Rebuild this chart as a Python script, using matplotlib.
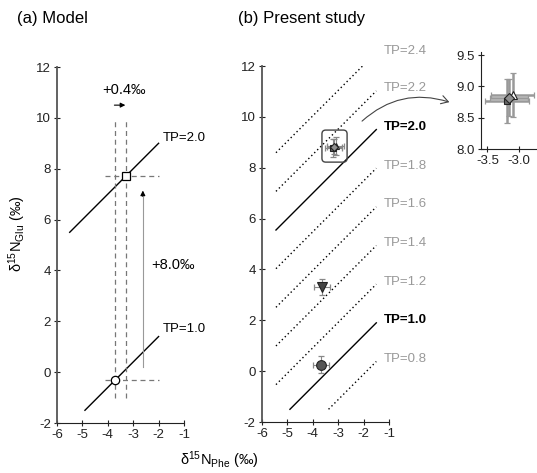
import numpy as np
import matplotlib
matplotlib.use("Agg")
import matplotlib.pyplot as plt
from matplotlib.patches import FancyBboxPatch, FancyArrowPatch
from matplotlib.ticker import FormatStrFormatter

plt.rcParams["font.family"] = ["Liberation Sans", "DejaVu Sans"]
plt.rcParams["mathtext.fontset"] = "custom"
plt.rcParams["mathtext.rm"] = "Liberation Sans"
plt.rcParams["mathtext.it"] = "Liberation Sans:italic"
plt.rcParams["axes.unicode_minus"] = False

# ---------------- data ----------------
# (a) model: source (TP=1) and consumer (TP=2)
model_phe = [-3.7, -3.3]
model_glu = [-0.3, 7.7]
model_tp = [1.0, 2.0]
model_line_x0 = [-4.9, -5.5]
model_line_x1 = [-2.0, -2.0]

# (b) TP isolines: Glu - Phe = 3.4 + 7.6 (TP - 1)
tp_levels = [0.8, 1.0, 1.2, 1.4, 1.6, 1.8, 2.0, 2.2, 2.4]
tp_x0 = [-3.38, -4.9, -5.45, -5.45, -5.45, -5.45, -5.45, -5.45, -5.45]
tp_x1 = [-1.5, -1.5, -1.5, -1.5, -1.5, -1.5, -1.5, -1.5, -2.04]

# (b) observations
obs_phe = [-3.68, -3.64, -3.19, -3.10, -3.16]
obs_glu = [0.25, 3.30, 8.77, 8.86, 8.82]
obs_xerr = [0.33, 0.33, 0.34, 0.34, 0.30]
obs_yerr = [0.33, 0.31, 0.35, 0.35, 0.30]
obs_marker = ["o", "v", "s", "^", "D"]
obs_color = ["#555555", "#444444", "#666666", "white", "#909090"]
obs_size = [7, 7.5, 5, 6, 5.5]

FS_TICK = 9.5
FS_TP = 9.5


def tp_offset(tp):
    return 3.4 + 7.6 * (tp - 1.0)


def style_axis(ax):
    for s in ["top", "right"]:
        ax.spines[s].set_visible(False)
    ax.spines["left"].set_color("#555555")
    ax.spines["left"].set_linewidth(1.3)
    ax.spines["bottom"].set_color("#222222")
    ax.tick_params(direction="inout", length=5, width=0.8, labelsize=FS_TICK,
                   colors="#222222", pad=2)


W, H = 537, 473
fig = plt.figure(figsize=(W / 100, H / 100), dpi=100)

ax_a = fig.add_axes([57 / W, 1 - 423 / H, 127 / W, 356 / H])
ax_b = fig.add_axes([262 / W, 1 - 422 / H, 127 / W, 356 / H])
ax_i = fig.add_axes([481 / W, 1 - 149 / H, 56 / W, 97 / H])

for ax in (ax_a, ax_b):
    ax.set_xlim(-6, -1)
    ax.set_ylim(-2, 12)
    ax.set_xticks(range(-6, 0))
    ax.set_yticks(range(-2, 13, 2))
    style_axis(ax)

# ---------------- (a) Model ----------------
for tp, x0, x1 in zip(model_tp, model_line_x0, model_line_x1):
    off = tp_offset(tp)
    ax_a.plot([x0, x1], [x0 + off, x1 + off], color="black", lw=1)
    ax_a.text(x1 + 0.18, x1 + off + (0.2 if tp == 2.0 else 0.3), f"TP={tp:.1f}",
              fontsize=FS_TP, va="center", ha="left")

dash_kw = dict(color="#777777", lw=0.9, ls=(0, (4, 3)))
for x in model_phe:
    ax_a.plot([x, x], [-1.0, 10.0], **dash_kw)
for y in model_glu:
    ax_a.plot([-4.1, -2.0], [y, y], **dash_kw)

ax_a.plot(model_phe[0], model_glu[0], "o", ms=6, mfc="white", mec="black",
          mew=0.9, zorder=5)
ax_a.plot(model_phe[1], model_glu[1], "s", ms=6, mfc="white", mec="black",
          mew=0.9, zorder=5)

# shift arrows
ax_a.annotate("", xy=(-3.2, 10.5), xytext=(-3.85, 10.5),
              arrowprops=dict(arrowstyle="-|>", color="black", lw=0.8,
                              mutation_scale=7))
ax_a.text(-3.38, 11.1, "+0.4‰", fontsize=10.5, ha="center", va="center")
ax_a.plot([-2.62, -2.62], [0.2, 6.9], color="#999999", lw=0.8)
ax_a.annotate("", xy=(-2.62, 7.25), xytext=(-2.62, 6.8),
              arrowprops=dict(arrowstyle="-|>", color="black", lw=0.8,
                              mutation_scale=7))
ax_a.text(-2.28, 4.2, "+8.0‰", fontsize=10.5, ha="left", va="center")

# ---------------- (b) Present study ----------------
for tp, x0, x1 in zip(tp_levels, tp_x0, tp_x1):
    off = tp_offset(tp)
    major = tp in (1.0, 2.0)
    ls = "-" if major else (0, (1, 2))
    ax_b.plot([x0, x1], [x0 + off, x1 + off], color="black", lw=1, ls=ls)
    ax_b.text(-1.22, min(-1.5 + off, 12.5) + 0.1, f"TP={tp:.1f}", fontsize=FS_TP,
              va="center", ha="left", clip_on=False,
              color="black" if major else "#999999",
              fontweight="bold" if major else "normal")

for axx in (ax_b, ax_i):
    inset = axx is ax_i
    for x, y, xe, ye, m, c, s in zip(obs_phe, obs_glu, obs_xerr, obs_yerr,
                                     obs_marker, obs_color, obs_size):
        if inset and y < 8:
            continue
        axx.errorbar(x, y, xerr=xe, yerr=ye, fmt="none",
                     ecolor="#999999" if inset else "#888888",
                     elinewidth=1.8 if inset else 0.8, capsize=2.5 if inset else 2,
                     capthick=0.9, zorder=3)
        axx.plot(x, y, m, ms=s if inset else (s if y < 8 else s * 0.8),
                 mfc=c, mec="#222222", mew=0.8, zorder=4)

box = FancyBboxPatch((-3.64, 8.22), 0.99, 1.26,
                     boxstyle="round,pad=0,rounding_size=0.15",
                     fc="none", ec="#444444", lw=1, zorder=6)
ax_b.add_patch(box)

# ---------------- inset ----------------
ax_i.set_xlim(-3.6, -2.72)
ax_i.set_ylim(8.0, 9.55)
ax_i.set_xticks([-3.5, -3.0])
ax_i.set_yticks([8.0, 8.5, 9.0, 9.5])
ax_i.xaxis.set_major_formatter(FormatStrFormatter("%.1f"))
ax_i.yaxis.set_major_formatter(FormatStrFormatter("%.1f"))
style_axis(ax_i)
ax_i.spines["left"].set_color("#222222")
ax_i.spines["left"].set_linewidth(0.8)

fig.patches.append(FancyArrowPatch(
    (360, H - 123), (452, H - 103), transform=None,
    connectionstyle="arc3,rad=-0.3", arrowstyle="->,head_length=5,head_width=3",
    color="#444444", lw=0.8))

# ---------------- titles & shared labels ----------------
fig.text(17 / W, 1 - 19 / H, "(a) Model", fontsize=12, va="center")
fig.text(238 / W, 1 - 19 / H, "(b) Present study", fontsize=12, va="center")
fig.text(219 / W, 1 - 460 / H, "δ$^{15}$N$_{\\mathrm{Phe}}$ (‰)", fontsize=10.5,
         ha="center", va="center")
fig.text(17 / W, 1 - 234 / H, "δ$^{15}$N$_{\\mathrm{Glu}}$ (‰)", fontsize=10.5,
         ha="center", va="center", rotation=90)

fig.savefig("out.png", dpi=100)
